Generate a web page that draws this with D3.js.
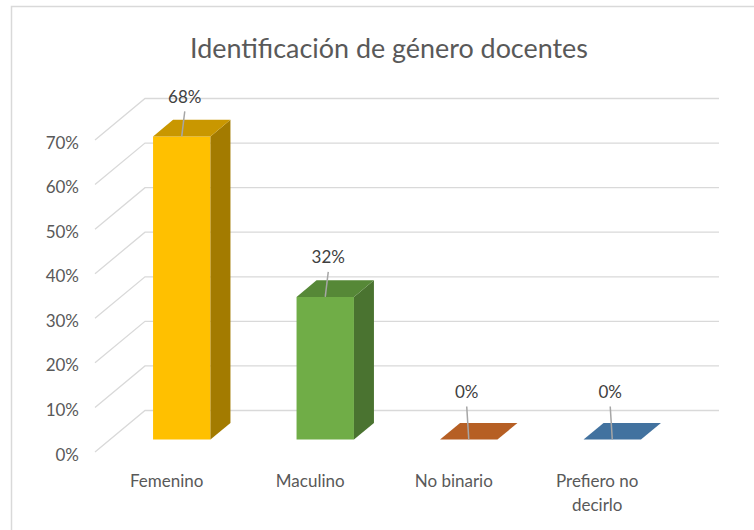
<!DOCTYPE html>
<html lang="es">
<head>
<meta charset="UTF-8">
<title>Identificación de género docentes</title>
<style>
  body { margin: 0; background: #fff; }
  svg { display: block; font-family: Lato, "Open Sans", sans-serif; }
  .grid { stroke: #d9d9d9; stroke-width: 1.3; fill: none; }
  .tick text, .cat text { fill: #595959; font-size: 17px; }
  .dlabel { fill: #404040; font-size: 17px; }
  .leader { stroke: #a6a6a6; stroke-width: 1.5; }
</style>
</head>
<body>
<svg width="754" height="530"></svg>
<script src="https://cdn.jsdelivr.net/npm/d3@7"></script>
<script>
  var categories = ["Femenino", "Maculino", "No binario", "Prefiero no decirlo"];
  var values = [0.68, 0.32, 0, 0];
  var frontColors = ["#ffc000", "#70ad47", "#ed7d31", "#5b9bd5"];
  var topColors = ["#c99700", "#568837", "#b65f24", "#42729f"];
  var sideColors = ["#a37b00", "#4a7330", "#9c501f", "#386188"];
  var yTicks = [0, 0.1, 0.2, 0.3, 0.4, 0.5, 0.6, 0.7];
  var title = "Identificación de género docentes";

  var svg = d3.select("svg");

  // frame of the chart area
  svg.append("rect")
    .attr("x", 11.5).attr("y", 6.5)
    .attr("width", 760).attr("height", 540)
    .attr("fill", "#fff").attr("stroke", "#d9d9d9").attr("stroke-width", 1.5);

  // 3d: front plane scales plus an oblique depth vector
  var depth = [50, -41.5];
  var x = d3.scaleBand().domain(categories).range([95, 669])
    .paddingInner(0.6).paddingOuter(0.3);
  var y = d3.scaleLinear().domain([0, 0.7]).range([452, 140]);
  var z0 = 0.3, z1 = 0.7;

  function pt(px, py, z) {
    return [px + depth[0] * z, py + depth[1] * z];
  }

  // title, scaled to match the reference width
  var t = svg.append("text")
    .attr("x", 389).attr("y", 47)
    .attr("text-anchor", "middle")
    .attr("dominant-baseline", "central")
    .attr("fill", "#595959")
    .style("font-size", "26px")
    .text(title);
  var tw = t.node().getComputedTextLength();
  t.style("font-size", (26 * 398 / tw) + "px");

  // walls: side wall diagonals + back wall lines
  var grid = svg.append("g");
  yTicks.forEach(function (v) {
    var a = pt(x.range()[0], y(v), 0), b = pt(x.range()[0], y(v), 1), c = pt(x.range()[1], y(v), 1);
    grid.append("path").attr("class", "grid")
      .attr("d", "M" + a + "L" + b + "L" + c);
  });

  // value axis labels
  var fmt = d3.format(".0%");
  var ticks = svg.append("g").attr("class", "tick");
  yTicks.forEach(function (v) {
    ticks.append("text")
      .attr("x", 79).attr("y", y(v) + 2)
      .attr("text-anchor", "end")
      .attr("dominant-baseline", "central")
      .text(fmt(v));
  });

  // bars
  var bars = svg.append("g");
  categories.forEach(function (c, i) {
    var xl = x(c), xr = x(c) + x.bandwidth();
    var yb = y(0), yt = y(values[i]);
    var g = bars.append("g");
    var poly = function (pts) { return "M" + pts.join("L") + "Z"; };
    g.append("path").attr("fill", frontColors[i])
      .attr("d", poly([pt(xl, yt, z0), pt(xr, yt, z0), pt(xr, yb, z0), pt(xl, yb, z0)]));
    g.append("path").attr("fill", sideColors[i])
      .attr("d", poly([pt(xr, yt, z0), pt(xr, yt, z1), pt(xr, yb, z1), pt(xr, yb, z0)]));
    g.append("path").attr("fill", topColors[i])
      .attr("d", poly([pt(xl, yt, z0), pt(xr, yt, z0), pt(xr, yt, z1), pt(xl, yt, z1)]));

    // data label with leader line
    var f = pt(x(c) + x.bandwidth() / 2, yt, z0);
    var ly = f[1] - (values[i] > 0 ? 40 : 48);
    var lx = f[0] + (values[i] > 0 ? 3 : -2);
    g.append("line").attr("class", "leader")
      .attr("x1", lx).attr("y1", ly + 15)
      .attr("x2", f[0]).attr("y2", f[1]);
    g.append("text").attr("class", "dlabel")
      .attr("x", lx).attr("y", ly)
      .attr("text-anchor", "middle")
      .attr("dominant-baseline", "central")
      .text(fmt(values[i]));
  });

  // category labels, wrapped to the band step
  var cats = svg.append("g").attr("class", "cat");
  categories.forEach(function (c) {
    var cx = x(c) + x.bandwidth() / 2;
    var txt = cats.append("text")
      .attr("x", cx).attr("y", 480)
      .attr("text-anchor", "middle")
      .attr("dominant-baseline", "central");
    var words = c.split(" "), line = [], lines = [];
    var probe = txt.append("tspan");
    words.forEach(function (w) {
      line.push(w);
      probe.text(line.join(" "));
      if (probe.node().getComputedTextLength() > 100 && line.length > 1) {
        line.pop();
        lines.push(line.join(" "));
        line = [w];
      }
    });
    lines.push(line.join(" "));
    probe.remove();
    lines.forEach(function (l, k) {
      txt.append("tspan").attr("x", cx).attr("dy", k === 0 ? 0 : 23.5).text(l);
    });
  });
</script>
</body>
</html>
